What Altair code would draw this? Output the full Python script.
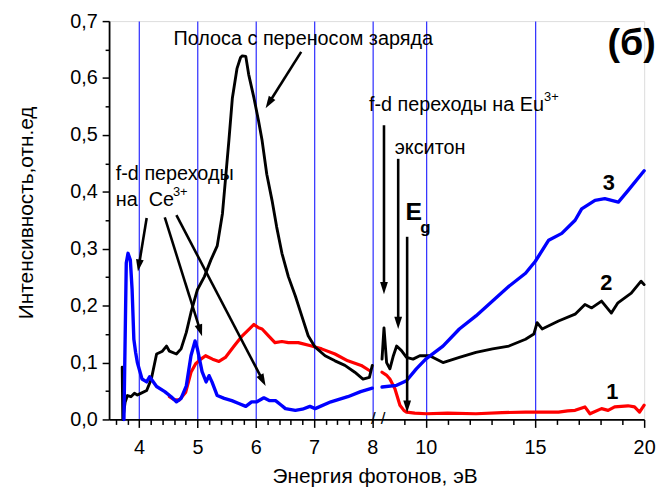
import altair as alt
import pandas as pd
import math

# ---------------- data (energy eV, intensity) ----------------
# left segment (3.5-8 eV, linear), right segment (8-20 eV, compressed)
red_l_x = [4.52, 4.6, 4.69, 4.8, 4.89, 4.97, 5.06, 5.14, 5.26, 5.37, 5.48, 5.63, 5.77, 5.91, 5.97, 6.05, 6.11, 6.22, 6.33, 6.45, 6.56, 6.73, 6.96, 7.13, 7.36, 7.58, 7.81, 7.95]
red_l_y = [0.040, 0.035, 0.034, 0.048, 0.083, 0.098, 0.106, 0.112, 0.106, 0.102, 0.109, 0.129, 0.147, 0.161, 0.167, 0.161, 0.159, 0.147, 0.135, 0.137, 0.135, 0.135, 0.129, 0.124, 0.115, 0.103, 0.095, 0.086]
red_r_x = [8.0, 8.2, 8.36, 8.59, 8.82, 9.0, 9.12, 9.5, 10.03, 11.0, 12.3, 13.5, 14.57, 15.3, 16.08, 16.5, 16.84, 17.29, 17.52, 18.05, 18.35, 18.65, 19.26, 19.56, 19.79, 20.0]
red_r_y = [0.083, 0.078, 0.071, 0.054, 0.025, 0.016, 0.013, 0.011, 0.010, 0.011, 0.010, 0.012, 0.013, 0.013, 0.013, 0.015, 0.016, 0.022, 0.010, 0.019, 0.016, 0.022, 0.024, 0.022, 0.013, 0.025]

black_l_x = [3.71, 3.72, 3.76, 3.80, 3.86, 3.92, 3.97, 4.01, 4.13, 4.21, 4.30, 4.40, 4.47, 4.52, 4.64, 4.72, 4.81, 4.89, 5.0, 5.12, 5.23, 5.34, 5.43, 5.48, 5.54, 5.60, 5.68, 5.74, 5.77, 5.83, 5.88, 5.97, 6.05, 6.11, 6.19, 6.28, 6.36, 6.45, 6.56, 6.68, 6.79, 6.90, 7.02, 7.19, 7.36, 7.53, 7.70, 7.84, 7.95, 8.0]
black_l_y = [0.092, 0.0, 0.03, 0.042, 0.040, 0.046, 0.043, 0.045, 0.051, 0.071, 0.115, 0.120, 0.129, 0.120, 0.115, 0.124, 0.153, 0.188, 0.228, 0.251, 0.280, 0.305, 0.362, 0.420, 0.490, 0.565, 0.617, 0.636, 0.639, 0.638, 0.606, 0.565, 0.524, 0.490, 0.431, 0.385, 0.338, 0.292, 0.251, 0.217, 0.182, 0.147, 0.127, 0.112, 0.103, 0.095, 0.083, 0.071, 0.074, 0.095]
black_r_x = [8.0, 8.09, 8.21, 8.36, 8.52, 8.67, 8.89, 9.12, 9.42, 9.73, 10.18, 10.79, 11.54, 12.30, 13.06, 13.81, 14.57, 14.95, 15.10, 15.33, 16.08, 16.84, 17.29, 17.6, 18.05, 18.50, 18.80, 19.41, 19.86, 20.0]
black_r_y = [0.106, 0.161, 0.100, 0.089, 0.112, 0.129, 0.121, 0.109, 0.106, 0.112, 0.112, 0.100, 0.109, 0.118, 0.124, 0.129, 0.141, 0.150, 0.170, 0.159, 0.173, 0.185, 0.202, 0.196, 0.208, 0.187, 0.205, 0.222, 0.243, 0.237]

blue_l_x = [3.74, 3.78, 3.81, 3.85, 3.88, 3.91, 3.94, 3.97, 4.05, 4.13, 4.18, 4.30, 4.44, 4.55, 4.64, 4.72, 4.81, 4.89, 4.96, 5.0, 5.08, 5.15, 5.2, 5.25, 5.34, 5.46, 5.59, 5.71, 5.83, 5.93, 6.02, 6.14, 6.24, 6.34, 6.44, 6.51, 6.68, 6.8, 6.93, 7.02, 7.29, 7.58, 7.80, 8.0]
blue_l_y = [0.0, 0.275, 0.292, 0.280, 0.228, 0.141, 0.118, 0.100, 0.071, 0.066, 0.075, 0.058, 0.049, 0.040, 0.031, 0.037, 0.059, 0.112, 0.138, 0.124, 0.084, 0.066, 0.077, 0.066, 0.042, 0.037, 0.033, 0.028, 0.023, 0.031, 0.031, 0.038, 0.033, 0.033, 0.025, 0.019, 0.016, 0.018, 0.023, 0.019, 0.031, 0.040, 0.049, 0.055]
blue_r_x = [8.0, 8.67, 9.12, 9.57, 10.0, 10.79, 11.54, 12.30, 13.06, 13.81, 14.57, 15.02, 15.63, 16.23, 16.84, 17.14, 17.75, 18.2, 18.82, 19.26, 20.0]
blue_r_y = [0.057, 0.060, 0.068, 0.089, 0.106, 0.129, 0.159, 0.182, 0.208, 0.234, 0.257, 0.278, 0.315, 0.327, 0.350, 0.370, 0.385, 0.388, 0.382, 0.402, 0.437]

x_major_left = [4, 5, 6, 7, 8]
x_major_right = [10, 15, 20]
x_minor_left = [3.6, 3.8, 4.2, 4.4, 4.6, 4.8, 5.2, 5.4, 5.6, 5.8, 6.2, 6.4, 6.6, 6.8, 7.2, 7.4, 7.6, 7.8]
x_minor_right = [9, 11, 12, 13, 14, 16, 17, 18, 19]
grid_left = [4, 5, 6, 7, 8]
grid_right = [10, 15]
y_ticks = [round(0.05 * i, 2) for i in range(15)]

# annotations: (text, energy, segment, intensity, size, weight, align)
texts = [
    ("Полоса с переносом заряда", 4.59, "L", 0.669, 20, "normal", "left"),
    ("f-d переходы", 3.60, "L", 0.432, 20, "normal", "left"),
    ("на\u00a0\u00a0Ce", 3.60, "L", 0.385, 20, "normal", "left"),
    ("3+", 4.58, "L", 0.400, 13, "normal", "left"),
    ("f-d переходы на Eu", 7.40, "R", 0.552, 20, "normal", "left"),
    ("3+", 15.42, "R", 0.566, 13, "normal", "left"),
    ("экситон", 8.58, "R", 0.477, 20, "normal", "left"),
    ("E", 9.08, "R", 0.364, 25, "bold", "left"),
    ("g", 9.75, "R", 0.336, 17, "bold", "left"),
    ("(б)", 19.43, "R", 0.660, 38, "bold", "center"),
    ("3", 18.38, "R", 0.416, 22, "bold", "center"),
    ("2", 18.27, "R", 0.239, 22, "bold", "center"),
    ("1", 18.54, "R", 0.049, 22, "bold", "center"),
]
# arrows: (E1, I1, E2, I2, segment)
arrows = [
    (6.78, 0.646, 6.17, 0.547, "L"),
    (4.13, 0.354, 3.98, 0.260, "L"),
    (4.44, 0.355, 5.08, 0.146, "L"),
    (4.64, 0.359, 6.17, 0.059, "L"),
    (8.09, 0.517, 8.09, 0.220, "R"),
    (8.74, 0.458, 8.74, 0.159, "R"),
    (9.15, 0.321, 9.15, 0.012, "R"),
]

# ---------------- broken-axis mapping ----------------
X0, X1 = 3.485, 12.663
GAP = 0.1667
RATIO = 22.03 / 58.8


def u(E, seg):
    return E if seg == "L" else 8.0 + GAP + (E - 8.0) * RATIO


W, H = 540, 402
PXU = W / (X1 - X0)
PXI = H / 0.7

rows = []
for name, segs in [("1", [(red_l_x, red_l_y, "L"), (red_r_x, red_r_y, "R")]),
                   ("2", [(black_l_x, black_l_y, "L"), (black_r_x, black_r_y, "R")]),
                   ("3", [(blue_l_x, blue_l_y, "L"), (blue_r_x, blue_r_y, "R")])]:
    for xs, ys, s in segs:
        for i, (e, v) in enumerate(zip(xs, ys)):
            rows.append({"series": name, "seg": s, "i": i, "u": u(e, s), "I": v})
df = pd.DataFrame(rows)

major_u = [round(u(v, "L"), 4) for v in x_major_left] + [round(u(v, "R"), 4) for v in x_major_right]
major_lab = [str(v) for v in x_major_left + x_major_right]
minor_u = [round(u(v, "L"), 4) for v in x_minor_left] + [round(u(v, "R"), 4) for v in x_minor_right]
grid_u = [round(u(v, "L"), 4) for v in grid_left] + [round(u(v, "R"), 4) for v in grid_right]
xvals = sorted(major_u + minor_u)

label_expr = "''"
for uv, lab in zip(reversed(major_u), reversed(major_lab)):
    label_expr = f"datum.value == {uv} ? '{lab}' : ({label_expr})"
major_test = "indexof([" + ",".join(str(v) for v in major_u) + "], datum.value) >= 0"
grid_test = "indexof([" + ",".join(str(v) for v in grid_u) + "], datum.value) >= 0"

FONT = "Liberation Sans"

xscale = alt.Scale(domain=[X0, X1], nice=False, zero=False)
yscale = alt.Scale(domain=[0, 0.7], nice=False, zero=True)

xaxis = alt.Axis(
    values=xvals, labelExpr=label_expr, title="Энергия фотонов, эВ",
    grid=True, gridColor="#2a2aff", gridWidth=1.2,
    gridOpacity={"condition": {"test": grid_test, "value": 1}, "value": 0},
    tickSize={"condition": {"test": major_test, "value": 8}, "value": 5},
    tickColor="black", tickWidth=1.5, domainColor="black", domainWidth=1.8,
    labelFont=FONT, labelFontSize=20, labelColor="black", labelPadding=10,
    labelFlush=False, labelOverlap=False,
    titleFont=FONT, titleFontSize=21, titleFontWeight="normal", titleColor="black",
    titleX=268, titleY=58, titleAnchor="start", titleAlign="center", titleBaseline="middle",
)
yaxis = alt.Axis(
    values=y_ticks, grid=False,
    labelExpr="abs(datum.value*10 - round(datum.value*10)) < 0.001 ? replace(format(datum.value, '.1f'), '.', ',') : ''",
    tickSize={"condition": {"test": "abs(datum.value*10 - round(datum.value*10)) < 0.001", "value": 7}, "value": 4},
    tickColor="black", tickWidth=1.5, domainColor="black", domainWidth=1.8,
    labelFont=FONT, labelFontSize=20, labelColor="black", labelPadding=5,
    labelFlush=False, labelOverlap=False,
    title="Интенсивность,отн.ед", titleFont=FONT, titleFontSize=21,
    titleFontWeight="normal", titleColor="black",
    titleX=-83, titleY=193, titleAngle=270, titleAlign="center", titleBaseline="middle", titleAnchor="start",
)


def X(field="u"):
    return alt.X(f"{field}:Q", scale=xscale, axis=xaxis)


def Y(field="I"):
    return alt.Y(f"{field}:Q", scale=yscale, axis=yaxis)


base = alt.Chart(df)
layers = []
for name, color, sw in [("1", "#ff0000", 3.2), ("2", "#000000", 2.9), ("3", "#0000ff", 3.4)]:
    layers.append(
        base.transform_filter(alt.datum.series == name).mark_line(
            color=color, strokeWidth=sw, strokeJoin="round", strokeCap="round"
        ).encode(x=X(), y=Y(), detail="seg:N", order="i:Q")
    )

# arrows
arr_rows = []
for e1, i1, e2, i2, s in arrows:
    u1, u2 = u(e1, s), u(e2, s)
    dx = (u2 - u1) * PXU
    dy = -(i2 - i1) * PXI
    ang = math.degrees(math.atan2(dx, -dy)) % 360
    L = math.hypot(dx, dy)
    back = 8.0 / L
    arr_rows.append({"u": u1, "I": i1, "u2": u2 - (u2 - u1) * back,
                     "I2": i2 - (i2 - i1) * back, "ue": u2, "Ie": i2, "ang": ang})
adf = pd.DataFrame(arr_rows)
shafts = alt.Chart(adf).mark_rule(color="black", strokeWidth=2.6).encode(
    x=X(), y=Y(), x2="u2:Q", y2="I2:Q")
heads = alt.Chart(adf).transform_calculate(u="datum.ue", I="datum.Ie").mark_point(
    shape="M0,0 L0.32,1 L-0.32,1 Z", filled=True, color="black", opacity=1, size=600, strokeWidth=0
).encode(x=X(), y=Y(), angle=alt.Angle("ang:Q", scale=None))

# texts
tdf = pd.DataFrame([{"t": t, "u": u(e, s), "I": v, "fs": fs, "fw": fw, "al": al}
                    for t, e, s, v, fs, fw, al in texts])
text_layers = []
for (fs, fw, al), g in tdf.groupby(["fs", "fw", "al"]):
    text_layers.append(
        alt.Chart(g).mark_text(font=FONT, fontSize=int(fs), fontWeight=fw, align=al,
                               baseline="middle", color="black").encode(
            x=X(), y=Y(), text="t:N")
    )

# axis break marks
bdf = pd.DataFrame({"u": [8.017, 8.187], "I": [0.0, 0.0], "t": ["/", "/"]})
brk = alt.Chart(bdf).mark_text(font=FONT, fontSize=17, baseline="middle", align="center",
                               color="black").encode(x=X(), y=Y(), text="t:N")

chart = alt.layer(*layers, shafts, heads, *text_layers, brk).properties(
    width=W, height=H,
    autosize=alt.AutoSizeParams(type="none"),
    padding={"left": 102, "top": 11, "right": 18, "bottom": 73},
).configure_view(stroke=None).configure(background="white")

chart.save("out.html", embed_options={"renderer": "svg", "actions": False})
